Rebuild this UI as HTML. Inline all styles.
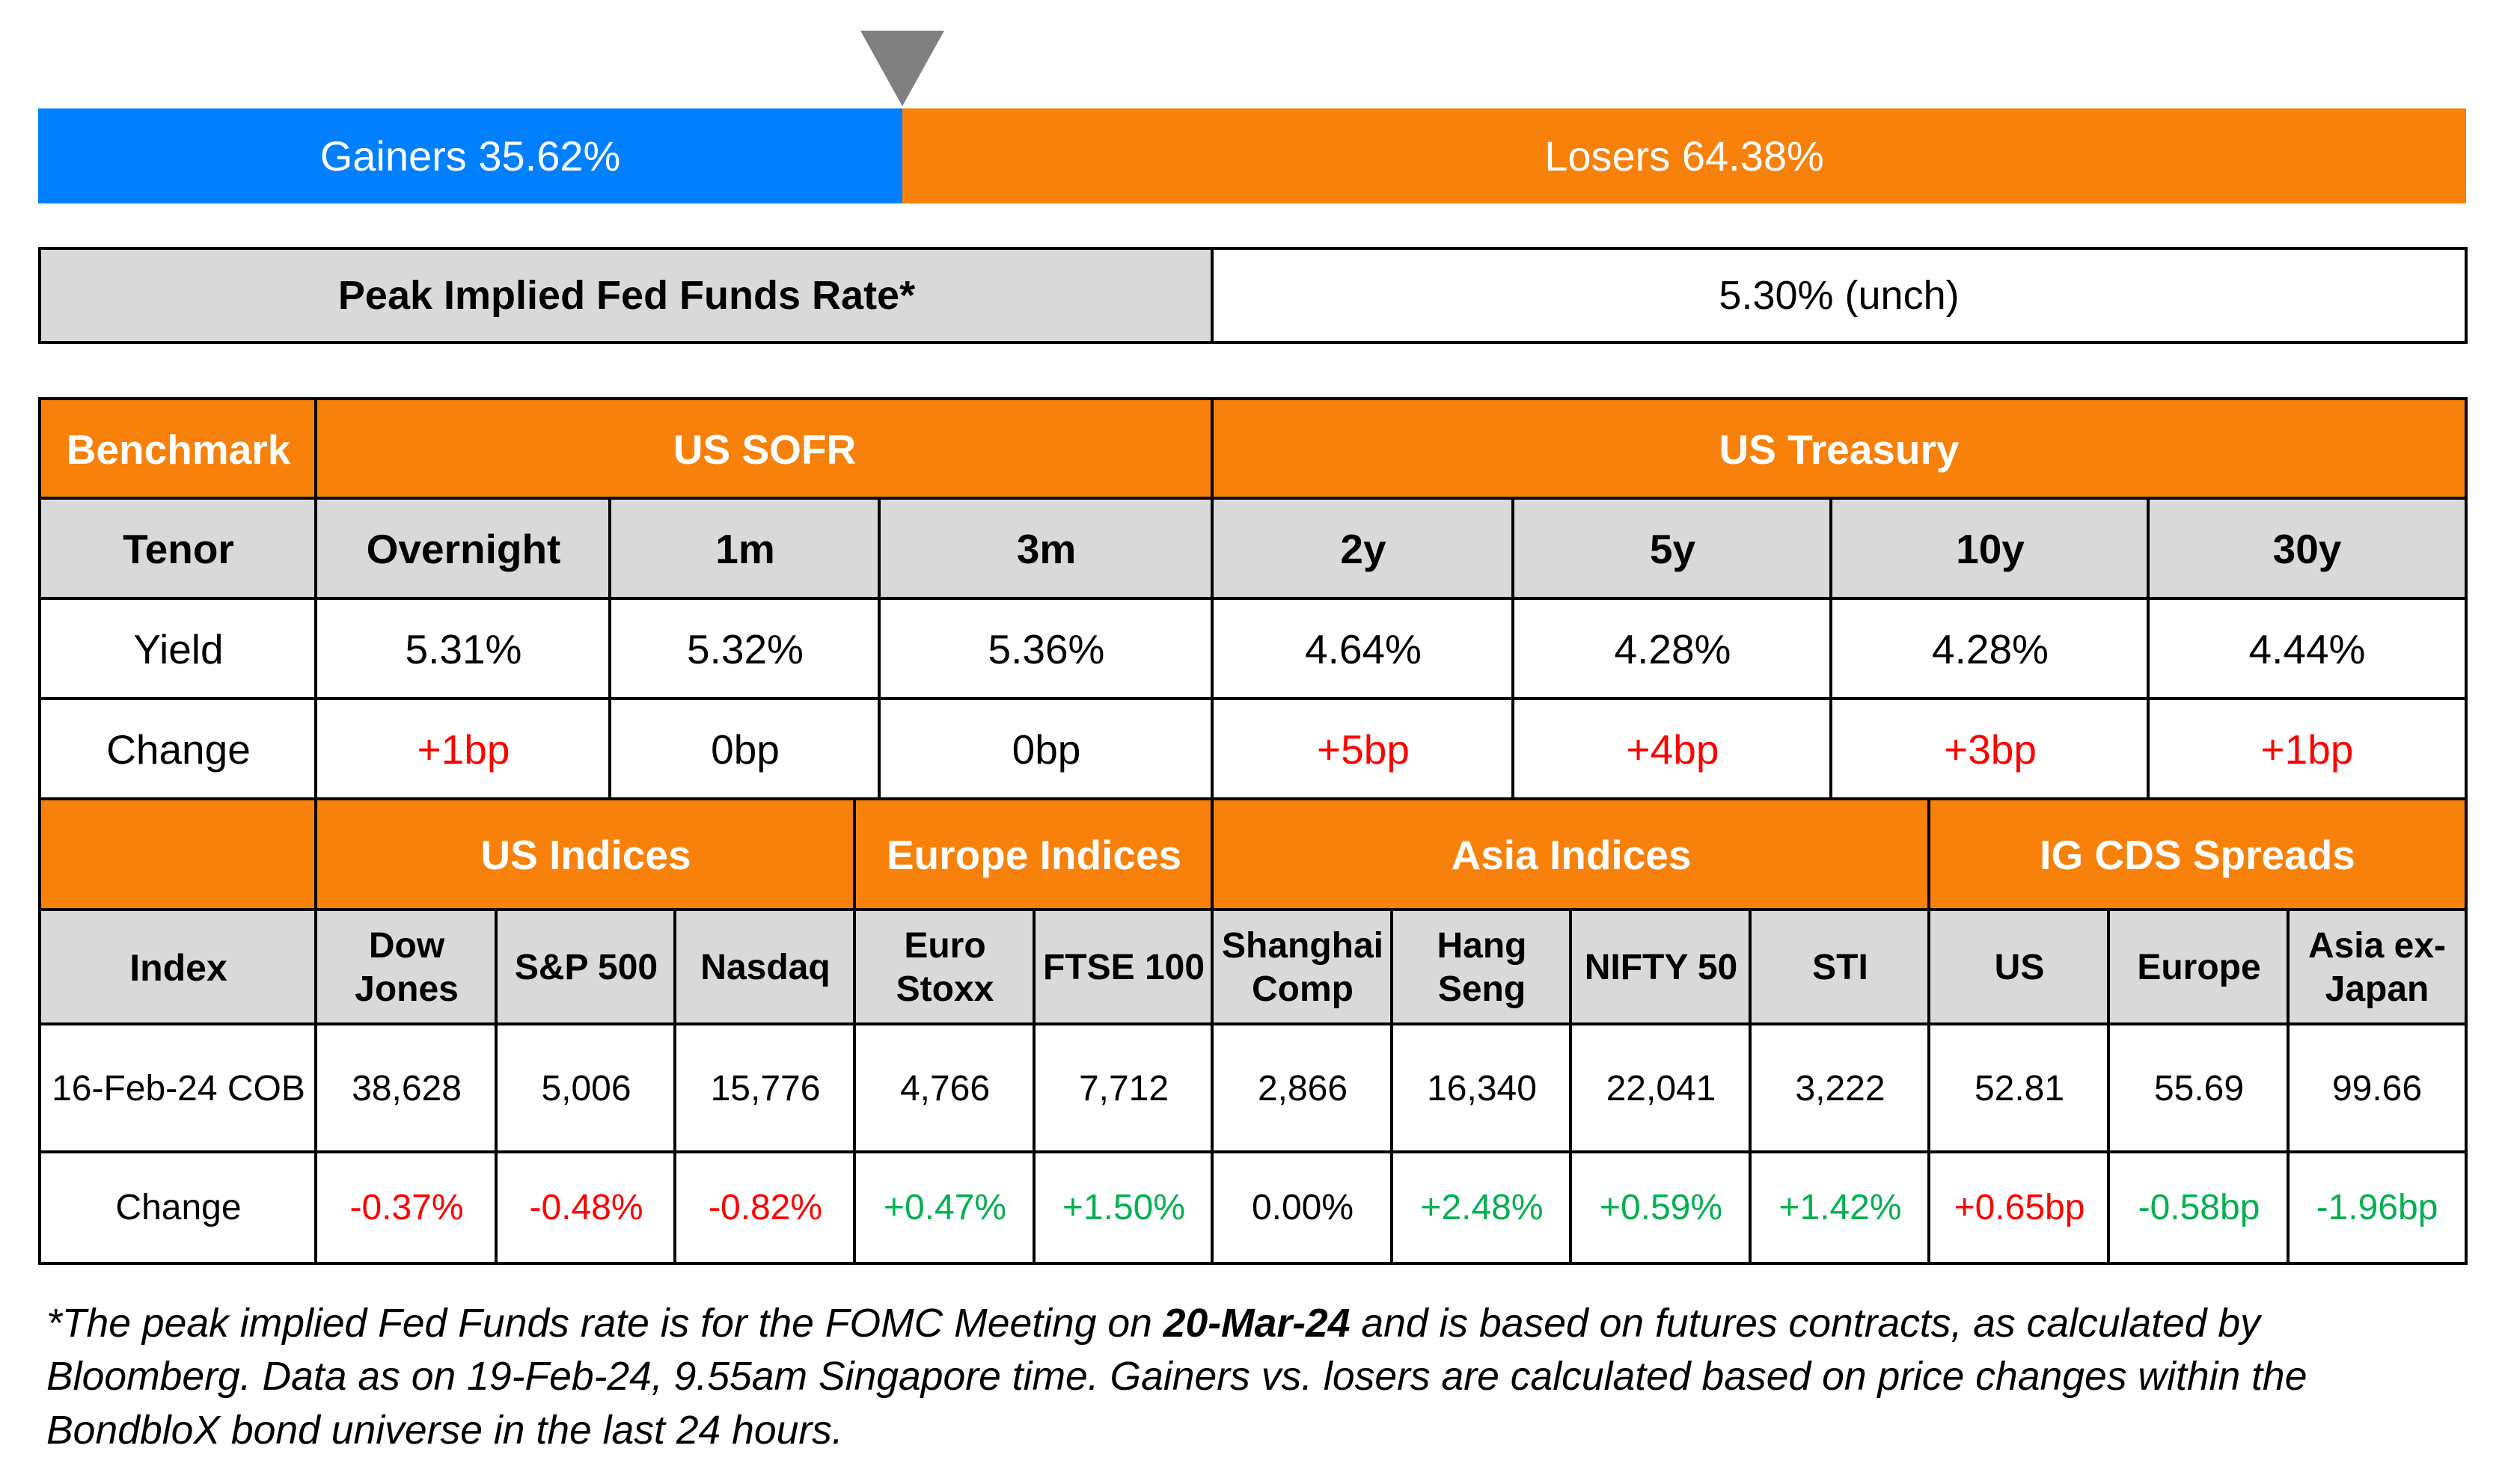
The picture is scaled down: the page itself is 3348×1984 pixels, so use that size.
<!DOCTYPE html>
<html><head><meta charset="utf-8">
<style>
html,body{margin:0;padding:0;background:#fff;}
body{width:3348px;height:1984px;position:relative;overflow:hidden;font-family:"Liberation Sans",sans-serif;}
.c{position:absolute;box-sizing:border-box;border:4px solid #000;display:flex;align-items:center;justify-content:center;text-align:center;color:#000;line-height:1.2;}
.o{background:#F7810A;color:#fff;font-weight:bold;font-size:55px;}
.g{background:#D9D9D9;font-weight:bold;}
.w{background:#fff;}
.t{font-size:55px;}
.b{font-size:48px;}
.r{color:#FF0000;}
.gr{color:#00B050;}
.fn{position:absolute;left:62px;font-size:53.5px;font-style:italic;white-space:nowrap;color:#000;}
</style></head><body>
<svg style="position:absolute;left:0;top:0" width="3348" height="160"><polygon points="1150,41 1262,41 1206,142" fill="#808080"/></svg>
<div style="position:absolute;left:51px;top:145px;width:1155px;height:127px;background:#0080FF;color:#fff;font-size:56px;display:flex;align-items:center;justify-content:center;">Gainers 35.62%</div>
<div style="position:absolute;left:1206px;top:145px;width:2090px;height:127px;background:#F7810A;color:#fff;font-size:56px;display:flex;align-items:center;justify-content:center;">Losers 64.38%</div>
<div class="c g" style="left:51px;top:330px;width:1573px;height:130px;font-size:54px;">Peak Implied Fed Funds Rate*</div>
<div class="c w" style="left:1618px;top:330px;width:1680px;height:130px;font-size:54px;">5.30% (unch)</div>

<div class="c o" style="left:51px;top:531px;width:375px;height:139px;">Benchmark</div>
<div class="c o" style="left:420px;top:531px;width:1204px;height:139px;">US SOFR</div>
<div class="c o" style="left:1618px;top:531px;width:1680px;height:139px;">US Treasury</div>
<div class="c g t" style="left:51px;top:664px;width:375px;height:140px;">Tenor</div>
<div class="c g t" style="left:420px;top:664px;width:399px;height:140px;">Overnight</div>
<div class="c g t" style="left:813px;top:664px;width:366px;height:140px;">1m</div>
<div class="c g t" style="left:1173px;top:664px;width:451px;height:140px;">3m</div>
<div class="c g t" style="left:1618px;top:664px;width:408px;height:140px;">2y</div>
<div class="c g t" style="left:2020px;top:664px;width:431px;height:140px;">5y</div>
<div class="c g t" style="left:2445px;top:664px;width:430px;height:140px;">10y</div>
<div class="c g t" style="left:2869px;top:664px;width:429px;height:140px;">30y</div>
<div class="c w t" style="left:51px;top:798px;width:375px;height:140px;">Yield</div>
<div class="c w t" style="left:420px;top:798px;width:399px;height:140px;">5.31%</div>
<div class="c w t" style="left:813px;top:798px;width:366px;height:140px;">5.32%</div>
<div class="c w t" style="left:1173px;top:798px;width:451px;height:140px;">5.36%</div>
<div class="c w t" style="left:1618px;top:798px;width:408px;height:140px;">4.64%</div>
<div class="c w t" style="left:2020px;top:798px;width:431px;height:140px;">4.28%</div>
<div class="c w t" style="left:2445px;top:798px;width:430px;height:140px;">4.28%</div>
<div class="c w t" style="left:2869px;top:798px;width:429px;height:140px;">4.44%</div>
<div class="c w t" style="left:51px;top:932px;width:375px;height:140px;">Change</div>
<div class="c w t r" style="left:420px;top:932px;width:399px;height:140px;">+1bp</div>
<div class="c w t" style="left:813px;top:932px;width:366px;height:140px;">0bp</div>
<div class="c w t" style="left:1173px;top:932px;width:451px;height:140px;">0bp</div>
<div class="c w t r" style="left:1618px;top:932px;width:408px;height:140px;">+5bp</div>
<div class="c w t r" style="left:2020px;top:932px;width:431px;height:140px;">+4bp</div>
<div class="c w t r" style="left:2445px;top:932px;width:430px;height:140px;">+3bp</div>
<div class="c w t r" style="left:2869px;top:932px;width:429px;height:140px;">+1bp</div>

<div class="c o" style="left:51px;top:1066px;width:375px;height:154px;"></div>
<div class="c o" style="left:420px;top:1066px;width:726px;height:154px;">US Indices</div>
<div class="c o" style="left:1140px;top:1066px;width:484px;height:154px;">Europe Indices</div>
<div class="c o" style="left:1618px;top:1066px;width:964px;height:154px;">Asia Indices</div>
<div class="c o" style="left:2576px;top:1066px;width:722px;height:154px;">IG CDS Spreads</div>
<div class="c g t" style="left:51px;top:1214px;width:375px;height:159px;font-size:50px;">Index</div>
<div class="c g b" style="left:420px;top:1214px;width:247px;height:159px;">Dow<br>Jones</div>
<div class="c g b" style="left:661px;top:1214px;width:245px;height:159px;">S&amp;P 500</div>
<div class="c g b" style="left:900px;top:1214px;width:246px;height:159px;">Nasdaq</div>
<div class="c g b" style="left:1140px;top:1214px;width:246px;height:159px;">Euro<br>Stoxx</div>
<div class="c g b" style="left:1380px;top:1214px;width:244px;height:159px;">FTSE 100</div>
<div class="c g b" style="left:1618px;top:1214px;width:246px;height:159px;">Shanghai<br>Comp</div>
<div class="c g b" style="left:1858px;top:1214px;width:245px;height:159px;">Hang<br>Seng</div>
<div class="c g b" style="left:2097px;top:1214px;width:246px;height:159px;">NIFTY 50</div>
<div class="c g b" style="left:2337px;top:1214px;width:245px;height:159px;">STI</div>
<div class="c g b" style="left:2576px;top:1214px;width:246px;height:159px;">US</div>
<div class="c g b" style="left:2816px;top:1214px;width:246px;height:159px;">Europe</div>
<div class="c g b" style="left:3056px;top:1214px;width:242px;height:159px;">Asia ex-<br>Japan</div>
<div class="c w b" style="left:51px;top:1367px;width:375px;height:177px;">16-Feb-24 COB</div>
<div class="c w b" style="left:420px;top:1367px;width:247px;height:177px;">38,628</div>
<div class="c w b" style="left:661px;top:1367px;width:245px;height:177px;">5,006</div>
<div class="c w b" style="left:900px;top:1367px;width:246px;height:177px;">15,776</div>
<div class="c w b" style="left:1140px;top:1367px;width:246px;height:177px;">4,766</div>
<div class="c w b" style="left:1380px;top:1367px;width:244px;height:177px;">7,712</div>
<div class="c w b" style="left:1618px;top:1367px;width:246px;height:177px;">2,866</div>
<div class="c w b" style="left:1858px;top:1367px;width:245px;height:177px;">16,340</div>
<div class="c w b" style="left:2097px;top:1367px;width:246px;height:177px;">22,041</div>
<div class="c w b" style="left:2337px;top:1367px;width:245px;height:177px;">3,222</div>
<div class="c w b" style="left:2576px;top:1367px;width:246px;height:177px;">52.81</div>
<div class="c w b" style="left:2816px;top:1367px;width:246px;height:177px;">55.69</div>
<div class="c w b" style="left:3056px;top:1367px;width:242px;height:177px;">99.66</div>
<div class="c w b" style="left:51px;top:1538px;width:375px;height:153px;">Change</div>
<div class="c w b r" style="left:420px;top:1538px;width:247px;height:153px;">-0.37%</div>
<div class="c w b r" style="left:661px;top:1538px;width:245px;height:153px;">-0.48%</div>
<div class="c w b r" style="left:900px;top:1538px;width:246px;height:153px;">-0.82%</div>
<div class="c w b gr" style="left:1140px;top:1538px;width:246px;height:153px;">+0.47%</div>
<div class="c w b gr" style="left:1380px;top:1538px;width:244px;height:153px;">+1.50%</div>
<div class="c w b" style="left:1618px;top:1538px;width:246px;height:153px;">0.00%</div>
<div class="c w b gr" style="left:1858px;top:1538px;width:245px;height:153px;">+2.48%</div>
<div class="c w b gr" style="left:2097px;top:1538px;width:246px;height:153px;">+0.59%</div>
<div class="c w b gr" style="left:2337px;top:1538px;width:245px;height:153px;">+1.42%</div>
<div class="c w b r" style="left:2576px;top:1538px;width:246px;height:153px;">+0.65bp</div>
<div class="c w b gr" style="left:2816px;top:1538px;width:246px;height:153px;">-0.58bp</div>
<div class="c w b gr" style="left:3056px;top:1538px;width:242px;height:153px;">-1.96bp</div>

<div class="fn" style="top:1739px;">*The peak implied Fed Funds rate is for the FOMC Meeting on <b>20-Mar-24</b> and is based on futures contracts, as calculated by</div>
<div class="fn" style="top:1810px;">Bloomberg. Data as on 19-Feb-24, 9.55am Singapore time. Gainers vs. losers are calculated based on price changes within the</div>
<div class="fn" style="top:1882px;">BondbloX bond universe in the last 24 hours.</div>
</body></html>
